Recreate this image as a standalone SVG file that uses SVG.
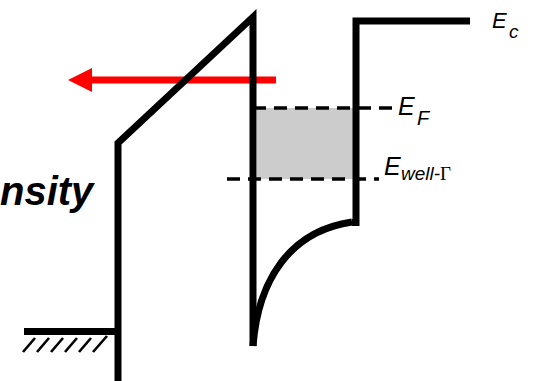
<svg xmlns="http://www.w3.org/2000/svg" width="534" height="381" viewBox="0 0 534 381">
  <style>
    .band { fill: none; stroke: #000; stroke-width: 7; stroke-linejoin: miter; stroke-miterlimit: 10; }
    .dash { fill: none; stroke: #000; stroke-width: 3.3; stroke-dasharray: 13 8; }
    .hatch { stroke: #000; stroke-width: 2.6; }
    .lbl { font-family: "Liberation Sans", Arial, sans-serif; font-style: italic; fill: #000; }
  </style>
  <rect width="534" height="381" fill="#fff"/>
  <g id="fill-region">
    <rect x="257" y="108" width="96" height="71" fill="#cccccc"/>
  </g>
  <g id="current-arrow">
    <line x1="90" y1="80" x2="276" y2="80" stroke="#ff0000" stroke-width="7"/>
    <polygon points="68,80 92,68 92,92" fill="#ff0000"/>
  </g>
  <g id="connectors">
    <path class="dash" d="M253,108 H393"/>
    <path class="dash" d="M227,179 H379"/>
  </g>
  <g id="band-profile">
    <path class="band" d="M118,381 V143 L253,17 V346"/>
    <path class="band" d="M253,346 C258,280 290,231 352,222"/>
    <path class="band" d="M352,222.5 H356 V21 H470"/>
  </g>
  <g id="ground">
    <line x1="24" y1="331.5" x2="118" y2="331.5" stroke="#000" stroke-width="7"/>
    <line class="hatch" x1="23" y1="352" x2="35" y2="338"/>
    <line class="hatch" x1="37" y1="352" x2="49" y2="338"/>
    <line class="hatch" x1="51" y1="352" x2="63" y2="338"/>
    <line class="hatch" x1="65" y1="352" x2="77" y2="338"/>
    <line class="hatch" x1="79" y1="352" x2="91" y2="338"/>
    <line class="hatch" x1="93" y1="352" x2="107" y2="336"/>
  </g>
  <g id="label-density">
    <text x="0" y="205" font-family="'Liberation Sans', Arial, sans-serif" font-weight="bold" font-style="italic" font-size="40">nsity</text>
  </g>
  <g id="label-Ec">
    <text class="lbl" x="492" y="28" font-size="22">E</text>
    <text class="lbl" x="509" y="38" font-size="19">c</text>
  </g>
  <g id="label-EF">
    <text class="lbl" x="398" y="114.5" font-size="25">E</text>
    <text class="lbl" x="417" y="125" font-size="20">F</text>
  </g>
  <g id="label-Ewell">
    <text class="lbl" x="384" y="175" font-size="25">E</text>
    <text x="401" y="180" font-size="19"><tspan class="lbl">well-</tspan><tspan font-family="'Liberation Serif', 'Times New Roman', serif">Γ</tspan></text>
  </g>
</svg>
